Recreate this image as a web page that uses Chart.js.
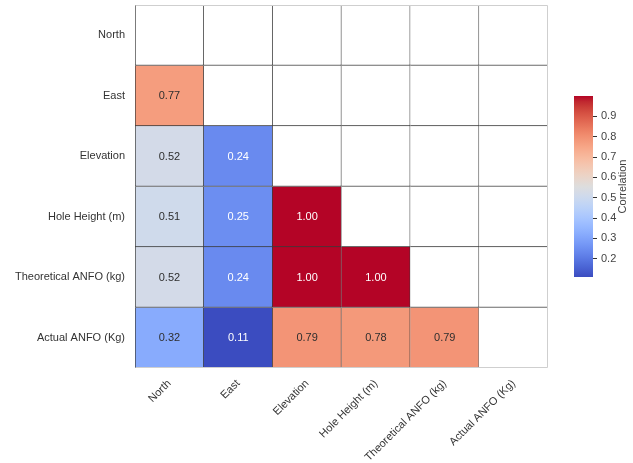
<!DOCTYPE html>
<html>
<head>
<meta charset="utf-8">
<script src="https://cdn.jsdelivr.net/npm/chart.js@4.4.1/dist/chart.umd.min.js"></script>
<style>
  html, body { margin: 0; padding: 0; background: #ffffff; }
  #wrap { position: relative; width: 633px; height: 463px; }
  #heat { position: absolute; left: 0; top: 0; }
  #cbar { position: absolute; left: 574px; top: 86px; }
</style>
</head>
<body>
<div id="wrap">
  <canvas id="heat" width="633" height="463"></canvas>
  <canvas id="cbar" width="59" height="201"></canvas>
</div>
<script>
// Variables of the correlation matrix (rows top to bottom, columns left to right)
const variables = ['North', 'East', 'Elevation', 'Hole Height (m)', 'Theoretical ANFO (kg)', 'Actual ANFO (Kg)'];

// Lower triangle, one array per row (values left of the diagonal)
const rowNorth       = [];
const rowEast        = [0.77];
const rowElevation   = [0.52, 0.24];
const rowHoleHeight  = [0.51, 0.25, 1.00];
const rowTheoretical = [0.52, 0.24, 1.00, 1.00];
const rowActual      = [0.32, 0.11, 0.79, 0.78, 0.79];

const colorbarTicks = [0.2, 0.3, 0.4, 0.5, 0.6, 0.7, 0.8, 0.9];

const rows = [rowNorth, rowEast, rowElevation, rowHoleHeight, rowTheoretical, rowActual];
const n = variables.length;
const shown = rows.flat();
const vmin = Math.min(...shown);
const vmax = Math.max(...shown);

// Diverging cool-warm colour map (33 stops)
const COOLWARM = [
  [59,76,192],[68,90,204],[77,104,215],[87,117,225],[98,130,234],[108,142,241],
  [119,154,247],[130,165,251],[141,176,254],[152,185,255],[163,194,255],[174,201,253],
  [184,208,249],[194,213,244],[204,217,238],[213,219,230],[221,221,221],[229,216,209],
  [236,211,197],[241,204,185],[245,196,173],[247,187,160],[247,177,148],[247,166,135],
  [244,154,123],[241,141,111],[236,127,99],[229,112,88],[222,96,77],[213,80,66],
  [203,62,56],[192,40,47],[180,4,38]
];
function cmap(t) {
  t = Math.max(0, Math.min(1, t));
  const p = t * (COOLWARM.length - 1);
  const i = Math.min(Math.floor(p), COOLWARM.length - 2);
  const f = p - i;
  const a = COOLWARM[i], b = COOLWARM[i + 1];
  return a.map((v, k) => Math.round(v + (b[k] - v) * f));
}
const rgb = c => `rgb(${c[0]},${c[1]},${c[2]})`;
const colorOf = v => cmap((v - vmin) / (vmax - vmin));
function luminance(c) {
  const lin = c.map(v => { v /= 255; return v <= 0.03928 ? v / 12.92 : Math.pow((v + 0.055) / 1.055, 2.4); });
  return 0.2126 * lin[0] + 0.7152 * lin[1] + 0.0722 * lin[2];
}

const FONT = "'Liberation Sans', Arial, Helvetica, sans-serif";
Chart.defaults.font.family = FONT;

// Value labels in the centre of every coloured cell
const cellLabels = {
  id: 'cellLabels',
  afterDatasetsDraw(chart) {
    const ctx = chart.ctx;
    ctx.save();
    ctx.font = `11px ${FONT}`;
    ctx.textAlign = 'center';
    ctx.textBaseline = 'middle';
    chart.data.datasets.forEach((ds, r) => {
      const meta = chart.getDatasetMeta(r);
      meta.data.forEach((el, c) => {
        const v = ds.corr[c];
        if (v == null) return;
        const p = el.getCenterPoint();
        ctx.fillStyle = luminance(colorOf(v)) > 0.408 ? '#2e2e2e' : '#ffffff';
        ctx.fillText(v.toFixed(2), p.x, p.y + 0.5);
      });
    });
    ctx.restore();
  }
};

// Light outer frame on the top, right and bottom edges of the grid
const frame = {
  id: 'frame',
  afterDatasetsDraw(chart) {
    const { ctx, chartArea: a } = chart;
    ctx.save();
    ctx.strokeStyle = '#cfcfcf';
    ctx.lineWidth = 1;
    ctx.beginPath();
    ctx.moveTo(Math.round(a.left) + 0.5, Math.round(a.top) + 0.5);
    ctx.lineTo(Math.round(a.right) - 0.5, Math.round(a.top) + 0.5);
    ctx.lineTo(Math.round(a.right) - 0.5, Math.round(a.bottom) - 0.5);
    ctx.lineTo(Math.round(a.left) + 0.5, Math.round(a.bottom) - 0.5);
    ctx.stroke();
    ctx.restore();
  }
};

new Chart(document.getElementById('heat'), {
  type: 'bar',
  data: {
    labels: variables,
    datasets: rows.map((vals, r) => ({
      label: variables[r],
      data: variables.map(() => [r, r + 1]),
      corr: variables.map((_, c) => (c < vals.length ? vals[c] : null)),
      backgroundColor: ctx => {
        const v = ctx.dataset.corr[ctx.dataIndex];
        return v == null ? '#ffffff' : rgb(colorOf(v));
      },
      borderColor: '#3a3a3a',
      borderWidth: ctx => ({
        top: 0,
        left: ctx.dataIndex === 0 ? 1 : 0,
        right: ctx.dataIndex === n - 1 ? 0 : 1,
        bottom: ctx.datasetIndex === n - 1 ? 0 : 1
      }),
      borderSkipped: false,
      grouped: false,
      barPercentage: 1,
      categoryPercentage: 1
    }))
  },
  options: {
    responsive: false,
    animation: false,
    layout: { padding: { top: 5, right: 85, bottom: 0, left: 0 } },
    plugins: { legend: { display: false }, tooltip: { enabled: false } },
    scales: {
      x: {
        type: 'category',
        grid: { display: false, drawTicks: false },
        border: { display: false },
        ticks: {
          autoSkip: false, minRotation: 45, maxRotation: 45,
          font: { size: 11 }, color: '#333333', padding: 9
        },
        afterFit: s => { s.height = 95; s.paddingLeft = 0; s.paddingRight = 0; }
      },
      y: {
        type: 'linear',
        reverse: true,
        min: 0,
        max: n,
        grid: { display: false, drawTicks: false },
        border: { display: false },
        afterBuildTicks: s => { s.ticks = variables.map((_, i) => ({ value: i + 0.5 })); },
        ticks: {
          callback: (v, i) => variables[i],
          font: { size: 11 }, color: '#333333', padding: 10
        },
        afterFit: s => { s.width = 135; s.paddingTop = 0; s.paddingBottom = 0; }
      }
    }
  },
  plugins: [frame, cellLabels]
});

// Colour bar
const cbarTitle = {
  id: 'cbarTitle',
  afterDraw(chart) {
    const { ctx, chartArea: a } = chart;
    ctx.save();
    ctx.font = `11px ${FONT}`;
    ctx.fillStyle = '#444444';
    ctx.textAlign = 'center';
    ctx.textBaseline = 'middle';
    ctx.translate(a.right + 30, (a.top + a.bottom) / 2);
    ctx.rotate(-Math.PI / 2);
    ctx.fillText('Correlation', 0, 0);
    ctx.restore();
  }
};

new Chart(document.getElementById('cbar'), {
  type: 'bar',
  data: {
    labels: [''],
    datasets: [{
      data: [[vmin, vmax]],
      backgroundColor: ctx => {
        const a = ctx.chart.chartArea;
        if (!a) return null;
        const g = ctx.chart.ctx.createLinearGradient(0, a.bottom, 0, a.top);
        COOLWARM.forEach((c, i) => g.addColorStop(i / (COOLWARM.length - 1), rgb(c)));
        return g;
      },
      borderWidth: 0,
      barPercentage: 1,
      categoryPercentage: 1,
      inflateAmount: 0
    }]
  },
  options: {
    responsive: false,
    animation: false,
    layout: { padding: { top: 10, bottom: 10, left: 0, right: 0 } },
    plugins: { legend: { display: false }, tooltip: { enabled: false } },
    scales: {
      x: { display: false },
      y: {
        position: 'right',
        min: vmin,
        max: vmax,
        afterBuildTicks: s => { s.ticks = colorbarTicks.map(v => ({ value: v })); },
        ticks: { callback: v => v.toFixed(1), font: { size: 11 }, color: '#444444', padding: 4 },
        grid: { drawOnChartArea: false, drawTicks: true, tickLength: 4, color: '#333333', lineWidth: 1 },
        border: { display: false },
        afterFit: s => { s.width = 40; s.paddingTop = 0; s.paddingBottom = 0; }
      }
    }
  },
  plugins: [cbarTitle]
});
</script>
</body>
</html>
